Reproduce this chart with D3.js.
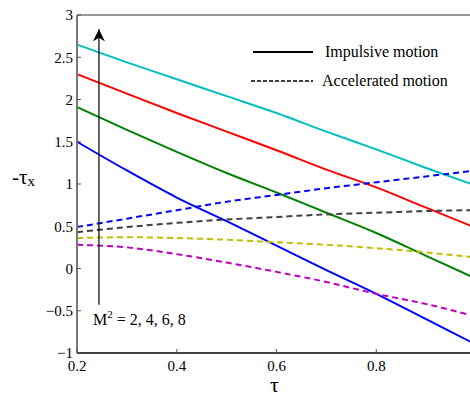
<!DOCTYPE html>
<html>
<head>
<meta charset="utf-8">
<script src="https://cdn.jsdelivr.net/npm/d3@7"></script>
<style>
  body { margin: 0; background: #fff; }
  svg { display: block; }
</style>
</head>
<body>
<svg id="chart" width="470" height="399"></svg>
<script>
const tau = [0.2, 0.3, 0.4, 0.5, 0.6, 0.7, 0.8, 0.9, 1.0];

// impulsive motion (solid), M^2 = 2, 4, 6, 8
const impM2 = [1.50, 1.16, 0.84, 0.56, 0.27, -0.02, -0.30, -0.60, -0.90];
const impM4 = [1.91, 1.64, 1.38, 1.13, 0.90, 0.66, 0.42, 0.15, -0.12];
const impM6 = [2.30, 2.07, 1.84, 1.62, 1.40, 1.17, 0.96, 0.72, 0.48];
const impM8 = [2.65, 2.44, 2.24, 2.04, 1.84, 1.62, 1.41, 1.19, 0.98];

// accelerated motion (dashed)
const accBlue = [0.49, 0.59, 0.69, 0.79, 0.87, 0.95, 1.02, 1.09, 1.16];
const accGrey = [0.43, 0.49, 0.54, 0.58, 0.61, 0.64, 0.66, 0.68, 0.69];
const accYellow = [0.36, 0.37, 0.36, 0.34, 0.31, 0.28, 0.24, 0.19, 0.13];
const accMagenta = [0.28, 0.25, 0.17, 0.07, -0.04, -0.16, -0.30, -0.42, -0.57];

const xTicks = [0.2, 0.4, 0.6, 0.8];
const yTicks = [-1, -0.5, 0, 0.5, 1, 1.5, 2, 2.5, 3];

const series = [
    { vals: impM2, color: "#0000ff", dash: null },
    { vals: impM4, color: "#008000", dash: null },
    { vals: impM6, color: "#ff0000", dash: null },
    { vals: impM8, color: "#00bfbf", dash: null },
    { vals: accBlue, color: "#0000ff", dash: "6,4" },
    { vals: accGrey, color: "#404040", dash: "6,4" },
    { vals: accYellow, color: "#bfbf00", dash: "6,4" },
    { vals: accMagenta, color: "#bf00bf", dash: "6,4" }
];

const serif = "'Liberation Serif', 'Times New Roman', 'DejaVu Serif', serif";
const svg = d3.select("#chart").attr("font-family", serif);
const plotL = 77, plotR = 476, plotT = 15, plotB = 353;

const x = d3.scaleLinear().domain([0.2, 1.0]).range([plotL, plotR]);
const y = d3.scaleLinear().domain([-1, 3]).range([plotB, plotT]);

// curves
const line = d3.line()
    .x((d, i) => x(tau[i]))
    .y(d => y(d))
    .curve(d3.curveMonotoneX);

const curveGroup = svg.append("g");
curveGroup.selectAll("path")
    .data(series)
    .enter()
    .append("path")
    .attr("d", d => line(d.vals))
    .attr("fill", "none")
    .attr("stroke", d => d.color)
    .attr("stroke-width", 2)
    .attr("stroke-dasharray", d => d.dash);

// axes box
svg.append("line")
    .attr("x1", plotL).attr("x2", plotR)
    .attr("y1", plotT).attr("y2", plotT)
    .attr("stroke", "#333").attr("stroke-width", 1.2);
svg.append("line")
    .attr("x1", plotL).attr("x2", plotR)
    .attr("y1", plotB).attr("y2", plotB)
    .attr("stroke", "#000").attr("stroke-width", 1.5);
svg.append("line")
    .attr("x1", plotL).attr("x2", plotL)
    .attr("y1", plotT).attr("y2", plotB)
    .attr("stroke", "#777").attr("stroke-width", 2);

// y ticks (inward)
const yAxis = svg.append("g");
yAxis.selectAll("line")
    .data(yTicks)
    .enter()
    .append("line")
    .attr("x1", plotL).attr("x2", plotL + 4)
    .attr("y1", d => y(d)).attr("y2", d => y(d))
    .attr("stroke", "#555").attr("stroke-width", 1);
yAxis.selectAll("text")
    .data(yTicks)
    .enter()
    .append("text")
    .attr("x", plotL - 4)
    .attr("y", d => y(d))
    .attr("dy", "0.35em")
    .attr("text-anchor", "end")
    .attr("font-size", "15px")
    .text(d => d3.format("")(d));

// x ticks (inward)
const xAxis = svg.append("g");
xAxis.selectAll("line")
    .data(xTicks)
    .enter()
    .append("line")
    .attr("x1", d => x(d)).attr("x2", d => x(d))
    .attr("y1", plotB).attr("y2", plotB - 4)
    .attr("stroke", "#555").attr("stroke-width", 1);
xAxis.selectAll("text")
    .data(xTicks)
    .enter()
    .append("text")
    .attr("x", d => x(d))
    .attr("y", plotB + 18)
    .attr("text-anchor", "middle")
    .attr("font-size", "15px")
    .text(d => d3.format(".1f")(d));

// axis titles
svg.append("text")
    .attr("x", (plotL + plotR) / 2 - 2)
    .attr("y", 392)
    .attr("text-anchor", "middle")
    .attr("font-size", "22px")
    .text("τ");

const yTitle = svg.append("text")
    .attr("x", 12)
    .attr("y", 184)
    .attr("font-size", "21px");
yTitle.append("tspan").text("-τ");
yTitle.append("tspan").attr("font-size", "15px").attr("dy", 2).text("x");

// legend
const legend = [
    { label: "Impulsive motion", dash: null, yy: 52, tx: 325 },
    { label: "Accelerated motion", dash: "4,2", yy: 81, tx: 322 }
];
const legendGroup = svg.append("g");
legendGroup.selectAll("line")
    .data(legend)
    .enter()
    .append("line")
    .attr("x1", d => d.dash ? 251 : 253)
    .attr("x2", 313)
    .attr("y1", d => d.yy).attr("y2", d => d.yy)
    .attr("stroke", "#000")
    .attr("stroke-width", d => d.dash ? 1.3 : 2)
    .attr("stroke-dasharray", d => d.dash);
legendGroup.selectAll("text")
    .data(legend)
    .enter()
    .append("text")
    .attr("x", d => d.tx)
    .attr("y", d => d.yy + 5)
    .attr("font-size", "16px")
    .text(d => d.label);

// arrow for increasing M^2
svg.append("defs").append("marker")
    .attr("id", "arrowhead")
    .attr("viewBox", "0 -5 10 10")
    .attr("refX", 10)
    .attr("markerWidth", 12)
    .attr("markerHeight", 12)
    .attr("markerUnits", "userSpaceOnUse")
    .attr("orient", "auto")
    .append("path")
    .attr("d", "M 0,-5 L 10,0 L 0,5 L 3,0 Z")
    .attr("fill", "#000");

svg.append("line")
    .attr("x1", x(0.244)).attr("x2", x(0.244))
    .attr("y1", y(-0.43)).attr("y2", y(2.83))
    .attr("stroke", "#000").attr("stroke-width", 1.2)
    .attr("marker-end", "url(#arrowhead)");

const mLabel = svg.append("text")
    .attr("x", 93)
    .attr("y", 325)
    .attr("font-size", "16px");
mLabel.append("tspan").text("M");
mLabel.append("tspan").attr("font-size", "11px").attr("dy", -7).text("2");
mLabel.append("tspan").attr("dy", 7).text(" = 2, 4, 6, 8");
</script>
</body>
</html>
